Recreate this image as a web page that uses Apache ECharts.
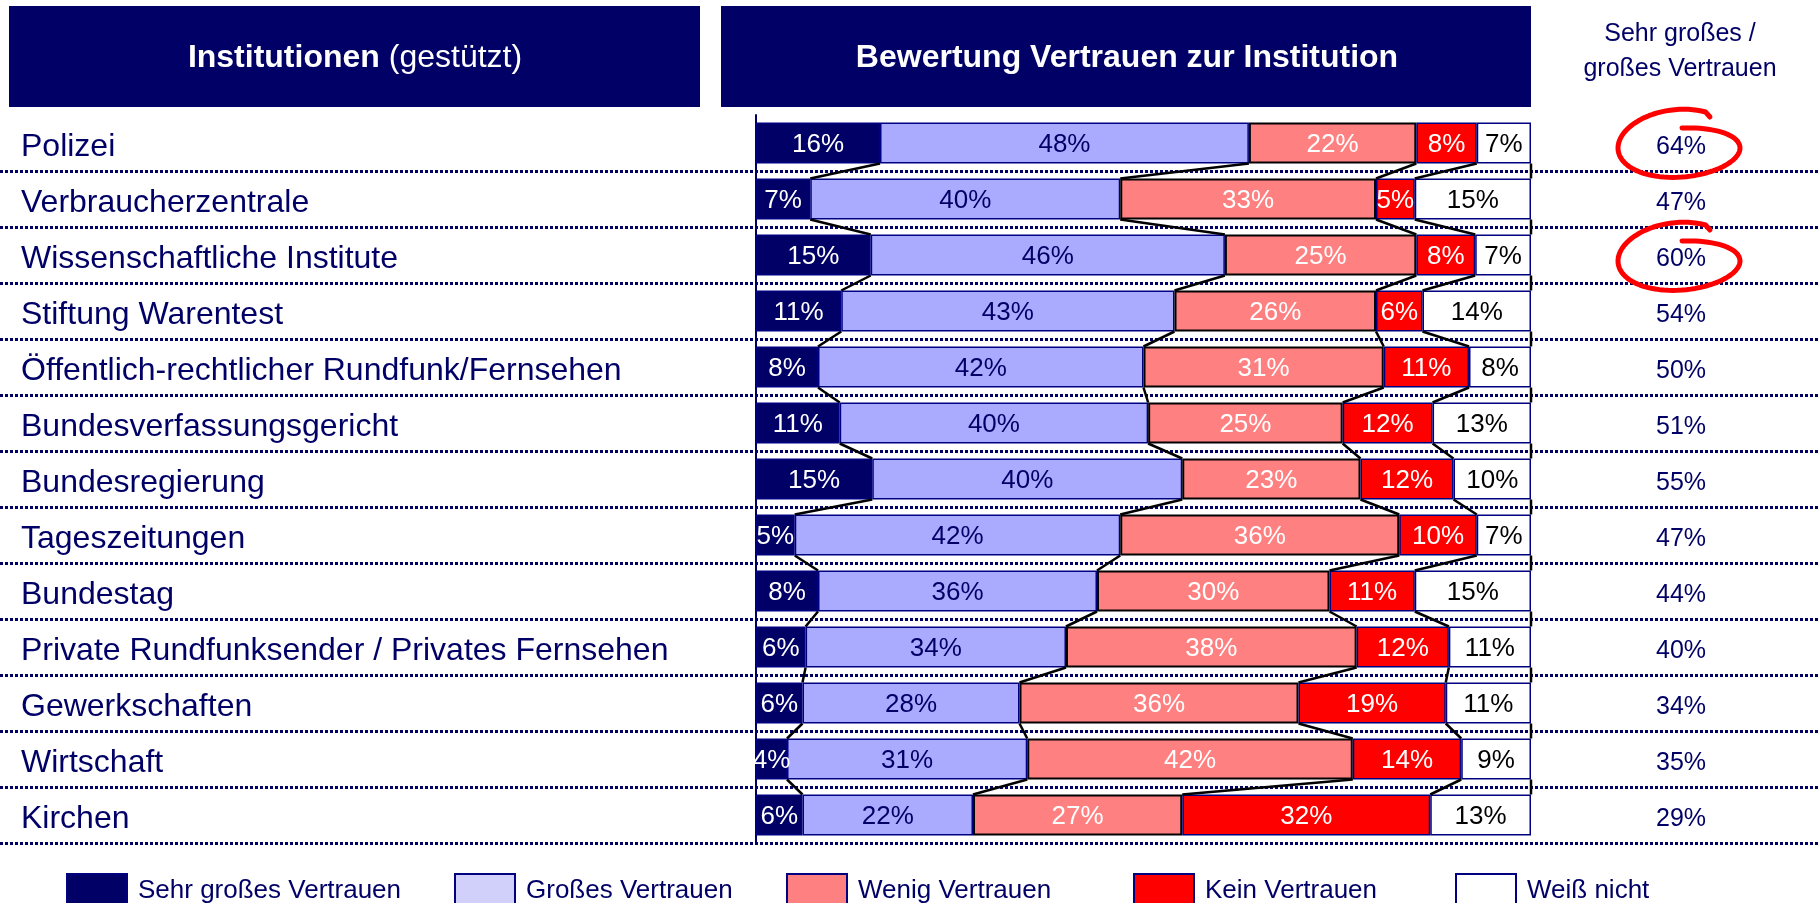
<!DOCTYPE html>
<html>
<head>
<meta charset="utf-8">
<script src="https://cdn.jsdelivr.net/npm/echarts@6/dist/echarts.min.js"></script>
<style>
  html, body { margin: 0; padding: 0; background: #fff; }
  #main { width: 1818px; height: 903px; }
</style>
</head>
<body>
<div id="main"></div>
<script>
var navy = '#000066';
var font = 'Liberation Sans, Arial, sans-serif';

var institutionen = ['Polizei', 'Verbraucherzentrale', 'Wissenschaftliche Institute', 'Stiftung Warentest',
    'Öffentlich-rechtlicher Rundfunk/Fernsehen', 'Bundesverfassungsgericht', 'Bundesregierung',
    'Tageszeitungen', 'Bundestag', 'Private Rundfunksender / Privates Fernsehen', 'Gewerkschaften',
    'Wirtschaft', 'Kirchen'];

// Anteile in % (teilweise ungerundet)
var sehrGross  = [16.0, 7, 14.8, 11, 8, 10.8, 15, 5, 8, 6.4, 6, 4, 6];
var gross      = [47.6, 40, 45.7, 43, 42, 39.8, 40, 42, 36, 33.6, 28, 31, 22];
var wenig      = [21.6, 33, 24.7, 26, 31, 25.1, 23, 36, 30, 37.5, 36, 42, 27];
var kein       = [7.8, 5, 7.6, 6, 11, 11.6, 12, 10, 11, 11.9, 19, 14, 32];
var weissNicht = [7.0, 15, 7.2, 14, 8, 12.7, 10, 7, 15, 10.6, 11, 9, 13];

// Sehr großes / großes Vertrauen
var vertrauenGesamt = [64, 47, 60, 54, 50, 51, 55, 47, 44, 40, 34, 35, 29];

var reihen = [sehrGross, gross, wenig, kein, weissNicht];
var namen = ['Sehr großes Vertrauen', 'Großes Vertrauen', 'Wenig Vertrauen', 'Kein Vertrauen', 'Weiß nicht'];
var farben = ['#000066', '#aaaaff', '#ff8080', '#ff0000', '#ffffff'];
var legendFarben = ['#000066', '#d0d0fa', '#ff8080', '#ff0000', '#ffffff'];
var labelFarben = ['#ffffff', navy, '#ffffff', '#ffffff', '#000000'];
var randFarben = ['#000080', '#000080', '#000000', '#000080', '#000080'];
var legendLinks = [66, 454, 786, 1133, 1455];

var barWidth = 41;

function kumuliert(i) {
    var s = 0;
    return reihen.map(function (a) { s += a[i]; return s; });
}

// handgezeichnete Kreise um die Werte
function kringel(cx, cy) {
    var pts = [];
    var n = 90;
    var t0 = -Math.PI / 2 + 0.05, t1 = -Math.PI / 2 + 2 * Math.PI + 0.45;
    for (var k = 0; k <= n; k++) {
        var f = k / n;
        var t = t0 + (t1 - t0) * f;
        var ry = 20 + 20 * f;
        pts.push([cx + 61 * Math.cos(t), cy + ry * Math.sin(t)]);
    }
    pts.push([cx + 31, cy - 31]);
    return pts;
}

var myChart = echarts.init(document.getElementById('main'));

var series = reihen.map(function (daten, s) {
    return {
        name: namen[s],
        type: 'bar',
        stack: 'gesamt',
        barWidth: barWidth,
        data: daten,
        itemStyle: {
            color: farben[s],
            borderColor: randFarben[s],
            borderWidth: s === 2 ? 2 : 1.5
        },
        label: {
            show: true,
            position: 'inside',
            offset: [0, 2],
            color: labelFarben[s],
            fontSize: 26,
            fontFamily: font,
            formatter: function (p) { return Math.round(p.value) + '%'; }
        }
    };
});

// Verbindungslinien zwischen den Balken
series.push({
    type: 'custom',
    z: 3,
    silent: true,
    encode: { x: 0, y: 1 },
    data: institutionen.slice(0, -1).map(function (_, i) { return [0, i]; }),
    renderItem: function (params, api) {
        var i = api.value(1);
        var a = kumuliert(i), b = kumuliert(i + 1);
        var ya = api.coord([0, i])[1] + barWidth / 2;
        var yb = api.coord([0, i + 1])[1] - barWidth / 2;
        return {
            type: 'group',
            children: a.map(function (v, k) {
                return {
                    type: 'line',
                    shape: { x1: api.coord([v, i])[0], y1: ya, x2: api.coord([b[k], i + 1])[0], y2: yb },
                    style: { stroke: '#000', lineWidth: 2.5 }
                };
            })
        };
    }
});

option = {
    backgroundColor: '#fff',
    animation: false,
    grid: [
        { left: 756, width: 775, top: 115, height: 728 },
        { left: 0, right: 0, top: 171, height: 672 }
    ],
    xAxis: [
        { gridIndex: 0, type: 'value', min: 0, max: 100, show: false },
        { gridIndex: 1, type: 'value', min: 0, max: 1, show: false }
    ],
    yAxis: [
        {
            gridIndex: 0,
            type: 'category',
            inverse: true,
            data: institutionen,
            axisLine: { show: true, lineStyle: { color: navy, width: 2 } },
            axisTick: { show: false },
            axisLabel: {
                margin: 735, align: 'left',
                formatter: function (v) { return '{n|' + v + '}'; },
                rich: { n: { fontSize: 32, color: navy, fontFamily: font, padding: [9, 0, 0, 0] } }
            }
        },
        {
            gridIndex: 0,
            type: 'category',
            inverse: true,
            position: 'right',
            data: institutionen,
            axisLine: { show: false },
            axisTick: { show: false },
            axisLabel: {
                margin: 150, align: 'center',
                formatter: function (v, i) { return '{w|' + vertrauenGesamt[i] + '%}'; },
                rich: { w: { fontSize: 25, color: navy, fontFamily: font, padding: [8, 0, 0, 0] } }
            }
        },
        {
            gridIndex: 1,
            type: 'category',
            data: institutionen.slice(1),
            axisLine: { show: false },
            axisTick: { show: false },
            axisLabel: { show: false },
            splitLine: { show: true, lineStyle: { color: navy, width: 3, type: [3, 2] } }
        }
    ],
    legend: namen.map(function (n, s) {
        return {
            left: legendLinks[s],
            top: 873,
            padding: 0,
            itemWidth: 60,
            itemHeight: 34,
            selectedMode: false,
            icon: 'rect',
            itemStyle: { borderColor: '#000080', borderWidth: 2 },
            textStyle: { fontSize: 26, color: navy, fontFamily: font, padding: [0, 0, 0, 6] },
            data: [{ name: n, itemStyle: { color: legendFarben[s], borderColor: '#000080', borderWidth: 2 } }]
        };
    }),
    graphic: [
        { type: 'rect', shape: { x: 9, y: 6, width: 691, height: 101 }, style: { fill: navy } },
        { type: 'rect', shape: { x: 721, y: 6, width: 810, height: 101 }, style: { fill: navy } },
        {
            type: 'text', x: 355, y: 58,
            style: {
                text: '{b|Institutionen} (gestützt)',
                fill: '#fff', fontSize: 32, fontFamily: font,
                textAlign: 'center', textVerticalAlign: 'middle',
                rich: { b: { fontWeight: 'bold', fontSize: 32, fill: '#fff', fontFamily: font } }
            }
        },
        {
            type: 'text', x: 1127, y: 58,
            style: {
                text: 'Bewertung Vertrauen zur Institution',
                fill: '#fff', fontSize: 32, fontWeight: 'bold', fontFamily: font,
                textAlign: 'center', textVerticalAlign: 'middle'
            }
        },
        {
            type: 'text', x: 1680, y: 52,
            style: {
                text: 'Sehr großes /\ngroßes Vertrauen',
                fill: navy, fontSize: 25, lineHeight: 35, fontFamily: font,
                textAlign: 'center', textVerticalAlign: 'middle'
            }
        },
        { type: 'polyline', z: 10, shape: { points: kringel(1679, 148) }, style: { stroke: '#ff0000', lineWidth: 5, fill: null, lineCap: 'round', lineJoin: 'round' } },
        { type: 'polyline', z: 10, shape: { points: kringel(1679, 261) }, style: { stroke: '#ff0000', lineWidth: 5, fill: null, lineCap: 'round', lineJoin: 'round' } }
    ],
    series: series
};

myChart.setOption(option);
</script>
</body>
</html>
